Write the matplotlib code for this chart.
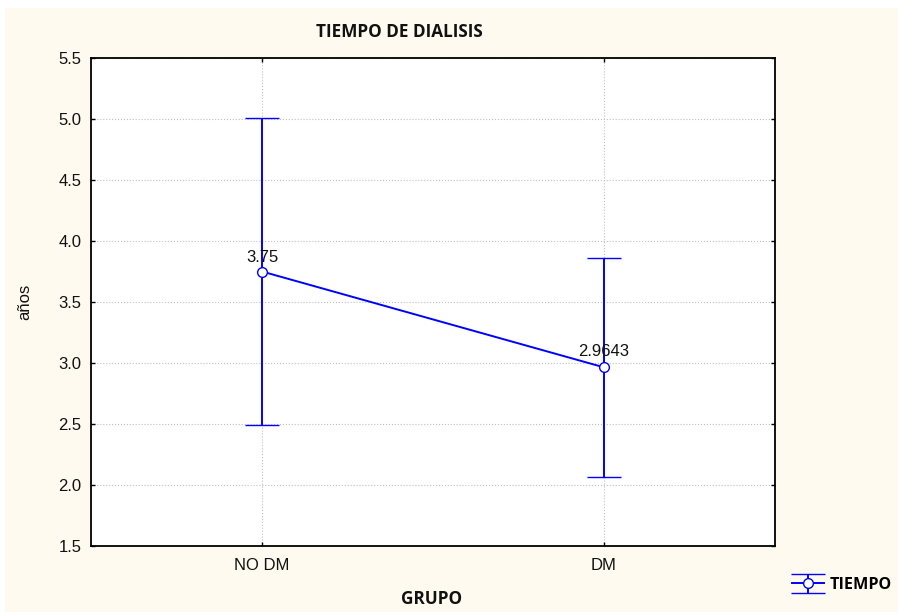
import matplotlib
matplotlib.use('Agg')
import matplotlib.pyplot as plt
from matplotlib.patches import Rectangle
from matplotlib.legend_handler import HandlerErrorbar

grupos = ['NO DM', 'DM']
medias = [3.75, 2.9643]
errores = [1.26, 0.897]
etiquetas = ['3.75', '2.9643']
yticks = [1.5, 2.0, 2.5, 3.0, 3.5, 4.0, 4.5, 5.0, 5.5]

plt.rcParams['font.family'] = ['Liberation Sans', 'DejaVu Sans']
azul = '#0000FF'

fig = plt.figure(figsize=(8.98, 6.12), dpi=100, facecolor='white')
# fondo crema
fig.patches.append(Rectangle((5 / 898, -0.1), 1.2, 1.1 - 8 / 612, transform=fig.transFigure,
                             facecolor='#FFFAF0', edgecolor='none', zorder=-1))

ax = fig.add_axes([91 / 898, 1 - 546 / 612, (775 - 91) / 898, (546 - 58) / 612])
ax.set_facecolor('white')

x = list(range(len(grupos)))
eb = ax.errorbar(x, medias, yerr=errores, color=azul, lw=1.4, capsize=12.2, capthick=1.4,
                 marker='o', markersize=7, markerfacecolor='white', markeredgecolor=azul,
                 markeredgewidth=1.0, label='TIEMPO', zorder=3)

for xi, m, txt, off in zip(x, medias, etiquetas, [7, 8.3]):
    ax.annotate(txt, (xi, m), xytext=(0, off), textcoords='offset points',
                ha='center', va='baseline', fontsize=12, color='#111111')

ax.set_xlim(-0.5, 1.5)
ax.set_ylim(1.5, 5.5)
ax.set_xticks(x)
ax.set_xticklabels(grupos)
ax.set_yticks(yticks)
ax.set_yticklabels([f'{v:.1f}' for v in yticks])
ax.tick_params(direction='in', length=3, width=1, top=True, right=True,
               labelsize=12, labelcolor='#111111')
ax.tick_params(axis='y', pad=7)
ax.tick_params(axis='x', pad=9)
ax.grid(True, linestyle=':', color='#c0c0c0', lw=0.8)
ax.set_axisbelow(True)
for s in ax.spines.values():
    s.set_linewidth(1.3)
    s.set_color('black')

ax.set_ylabel('años', fontsize=12, color='#111111')
ax.yaxis.set_label_coords((32 - 91) / 684, 0.5)

fig.text(399 / 898, 1 - 32 / 612, 'TIEMPO DE DIALISIS', ha='center', va='center',
         fontsize=12.3, weight='bold', family='Open Sans', color='#111111')
fig.text(432 / 898, 1 - 599 / 612, 'GRUPO', ha='center', va='center',
         fontsize=12.3, weight='bold', family='Open Sans', color='#111111')

leg = fig.legend(handles=[eb], loc='center left', bbox_to_anchor=(789 / 898, 1 - 585 / 612),
                 frameon=False, handlelength=2.0, handletextpad=0.3, borderpad=0.2,
                 borderaxespad=0.0,
                 handler_map={type(eb): HandlerErrorbar(yerr_size=0.6)},
                 prop={'family': 'Open Sans', 'weight': 'bold', 'size': 11.6})

fig.savefig('out.png', dpi=100, facecolor=fig.get_facecolor())
